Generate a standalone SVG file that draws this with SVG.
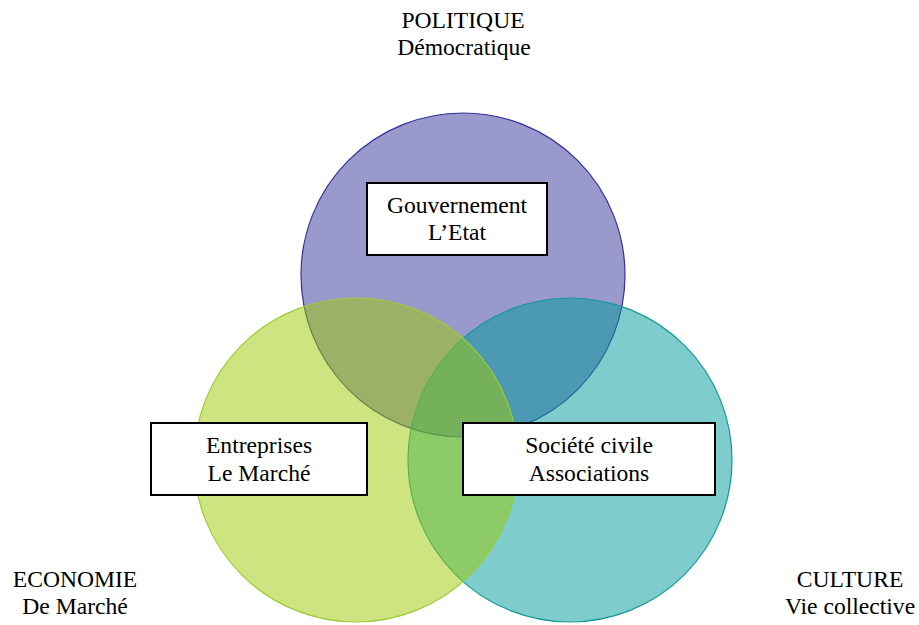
<svg xmlns="http://www.w3.org/2000/svg" width="919" height="625" viewBox="0 0 919 625">
<style>
  .box { fill: #fff; stroke: #000; stroke-width: 2; }
  .circ { stroke-width: 1.2; }
</style>
<rect width="919" height="625" fill="#fff"/>
<g id="circles">
  <g id="politique-circle"><circle class="circ" cx="463" cy="275" r="162" fill="#333399" fill-opacity="0.5" stroke="#333399"/></g>
  <g id="culture-circle"><circle class="circ" cx="570" cy="460" r="162" fill="#009999" fill-opacity="0.5" stroke="#119999"/></g>
  <g id="economie-circle"><circle class="circ" cx="356" cy="460" r="162" fill="#9bc901" fill-opacity="0.5" stroke="#9acd32"/></g>
</g>
<g id="connectors"></g>
<g font-family="'Liberation Serif', 'Times New Roman', Times, serif" font-size="23.6" text-anchor="middle" fill="#000">
<g id="gouvernement">
  <rect class="box" x="367" y="183" width="180" height="72"/>
  <text x="457" y="213">Gouvernement</text>
  <text x="457" y="240">L’Etat</text>
</g>
<g id="entreprises">
  <rect class="box" x="151" y="423" width="216" height="72"/>
  <text x="259" y="453">Entreprises</text>
  <text x="259" y="481">Le Marché</text>
</g>
<g id="societe">
  <rect class="box" x="463" y="423" width="252" height="72"/>
  <text x="589" y="453">Société civile</text>
  <text x="589" y="481">Associations</text>
</g>
<g id="label-politique">
  <text x="463" y="28">POLITIQUE</text>
  <text x="464" y="55">Démocratique</text>
</g>
<g id="label-economie">
  <text x="75" y="587">ECONOMIE</text>
  <text x="75" y="614">De Marché</text>
</g>
<g id="label-culture">
  <text x="850" y="587">CULTURE</text>
  <text x="850" y="614">Vie collective</text>
</g>
</g>
</svg>
